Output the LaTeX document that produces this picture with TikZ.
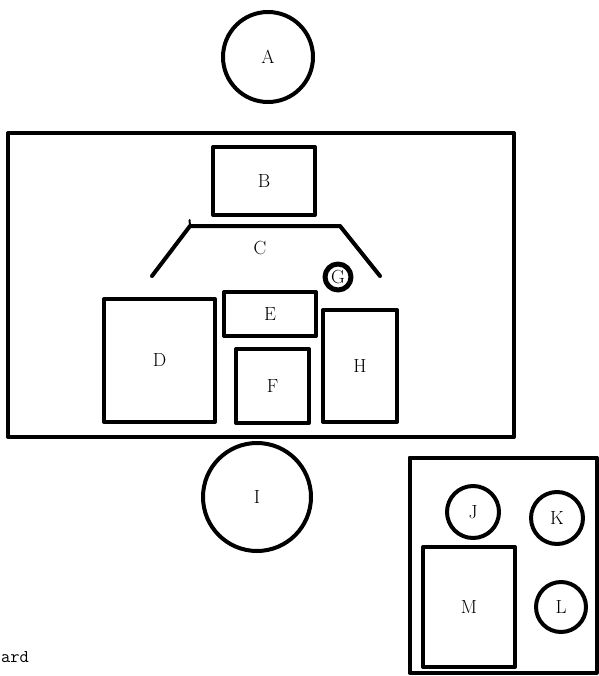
\documentclass[tikz,border=0pt]{standalone}
\usepackage{fontspec}
\begin{document}
\begin{tikzpicture}[x=1pt,y=-1pt,
  thick line/.style={line width=4pt, line join=round, line cap=round},
  box/.style={draw, thick line, rectangle, inner sep=0pt},
  disc/.style={draw, thick line, circle, inner sep=0pt},
  lbl/.style={font=\fontsize{19}{21}\selectfont}]
\useasboundingbox (0,0) rectangle (598,676);
% A
\node[disc, minimum size=90pt, lbl] (A) at (268,57) {A};
% big room
\node[box, minimum width=506pt, minimum height=304pt] (room) at (261,285) {};
% B
\node[box, minimum width=102pt, minimum height=68pt, lbl] (B) at (264,181) {B};
% C
\coordinate (c1) at (152,276);
\coordinate (c2) at (190,226);
\coordinate (c3) at (340,226);
\coordinate (c4) at (380,276);
\coordinate (c0) at (189.5,220);
\draw[thick line] (c1) -- (c2) -- (c3) -- (c4);
\draw[line width=2pt, line cap=round] (c0) -- (c2);
\node[lbl] (C) at (260,248) {C};
% G
\node[disc, line width=5pt, minimum size=26pt, lbl] (G) at (338,277) {G};
% D
\node[box, minimum width=111pt, minimum height=123pt, lbl] (D) at (159.5,360.5) {D};
% E
\node[box, minimum width=92pt, minimum height=44pt, lbl] (E) at (270,314) {E};
% F
\node[box, minimum width=73pt, minimum height=74pt, lbl] (F) at (272.5,386) {F};
% H
\node[box, minimum width=74pt, minimum height=112pt, lbl] (H) at (360,366) {H};
% I
\node[disc, minimum size=108pt, lbl] (I) at (257,497) {I};
% small box
\node[box, minimum width=187pt, minimum height=215pt] (panel) at (503,565) {};
\node[disc, minimum size=52pt, lbl] (J) at (473,512) {J};
\node[disc, minimum size=52pt, lbl] (K) at (557,518) {K};
\node[disc, minimum size=50pt, lbl] (L) at (561,607) {L};
\node[box, minimum width=92pt, minimum height=120pt, lbl] (M) at (469,607) {M};
% text
\node[anchor=base west, inner sep=0pt, font=\ttfamily\fontsize{18}{20}\selectfont] (ard) at (1,662) {ard};
\end{tikzpicture}
\end{document}
